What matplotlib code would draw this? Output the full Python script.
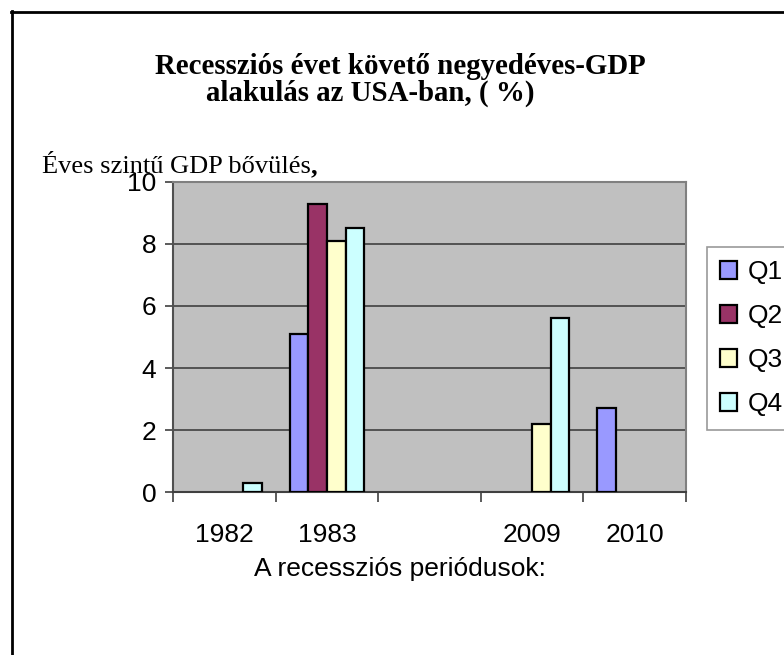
import matplotlib.pyplot as plt
import numpy as np
from matplotlib.lines import Line2D
from matplotlib.patches import Patch


categories = ['1982', '1983', '', '2009', '2010']
series = ['Q1', 'Q2', 'Q3', 'Q4']
q1 = [None, 5.1, None, None, 2.7]
q2 = [None, 9.3, None, None, None]
q3 = [None, 8.1, None, 2.2, None]
q4 = [0.3, 8.5, None, 5.6, None]
colors = ['#9999FF', '#993366', '#FFFFCC', '#CCFFFF']

title_line1 = 'Recessziós évet követő negyedéves-GDP'
title_line2 = 'alakulás az USA-ban, ( %)'
ylabel = 'Éves szintű GDP bővülés'
xlabel = 'A recessziós periódusok:'

W, H = 784, 655
SANS = 'Liberation Sans'
SERIF = 'Liberation Serif'


def fx(px):
    return px / W


def fy(py):
    return 1 - py / H


def main():
    fig = plt.figure(figsize=(W / 100, H / 100), dpi=100)
    ax = fig.add_axes([fx(173), fy(492), fx(686) - fx(173), fy(182) - fy(492)])
    ax.set_facecolor('#C0C0C0')

    x = np.arange(len(categories))
    w = 1 / 5.5
    for i, vals in enumerate([q1, q2, q3, q4]):
        h = np.array([np.nan if v is None else v for v in vals], dtype=float)
        ok = ~np.isnan(h)
        ax.bar(x[ok] + (i - 1.5) * w, h[ok], width=w, color=colors[i],
               edgecolor='black', linewidth=1.6, zorder=3)

    ax.set_xlim(-0.5, len(categories) - 0.5)
    ax.set_ylim(0, 10)
    ax.set_yticks([0, 2, 4, 6, 8, 10])
    ax.yaxis.grid(True, color='#404040', linewidth=1.2, zorder=1)
    ax.set_axisbelow(True)

    ax.set_xticks(x)
    ax.set_xticklabels(categories)
    ax.set_xticks(np.arange(-0.5, len(categories)), minor=True)
    ax.tick_params(axis='x', which='major', length=0, pad=22)
    ax.tick_params(axis='x', which='minor', length=7, width=1.2, color='#404040')
    ax.tick_params(axis='y', length=6, width=1.2, color='#404040', pad=6)
    for lab in ax.get_xticklabels() + ax.get_yticklabels():
        lab.set_family(SANS)
        lab.set_fontsize(19)

    for side in ['top', 'right']:
        ax.spines[side].set_color('#808080')
        ax.spines[side].set_linewidth(1.5)
    ax.spines['left'].set_color('#505050')
    ax.spines['left'].set_linewidth(1.5)
    ax.spines['bottom'].set_color('#404040')
    ax.spines['bottom'].set_linewidth(1.5)

    # title and labels placed like the original document
    fig.text(fx(400), fy(67), title_line1, ha='center', va='center',
             family=SERIF, weight='bold', fontsize=20.8)
    fig.text(fx(370), fy(93), title_line2, ha='center', va='center',
             family=SERIF, weight='bold', fontsize=20.8)
    t = fig.text(fx(42), fy(173), ylabel, ha='left', va='baseline',
                 family=SERIF, fontsize=19, zorder=1)
    fig.canvas.draw()
    bb = t.get_window_extent()
    fig.text(bb.x1 / W, fy(173), ',', ha='left', va='baseline',
             family=SERIF, weight='bold', fontsize=19)
    fig.text(fx(400), fy(569), xlabel, ha='center', va='center',
             family=SANS, fontsize=19)

    handles = [Patch(facecolor=c, edgecolor='black', linewidth=1.6) for c in colors]
    leg = fig.legend(handles, series, loc='upper left',
                     bbox_to_anchor=(fx(707), fy(247)), borderaxespad=0,
                     prop={'family': SANS, 'size': 19}, fancybox=False,
                     handlelength=0.65, handleheight=0.65, handletextpad=0.4,
                     labelspacing=0.76, borderpad=0.5)
    leg.get_frame().set_edgecolor('#808080')
    leg.get_frame().set_linewidth(1.2)

    # outer document frame (only left and top edges are visible)
    fig.add_artist(Line2D([fx(12), fx(12)], [fy(11), 0], color='black', linewidth=2))
    fig.add_artist(Line2D([fx(11), 1], [fy(12), fy(12)], color='black', linewidth=2))

    fig.savefig('out.png', dpi=100)


if __name__ == '__main__':
    main()
